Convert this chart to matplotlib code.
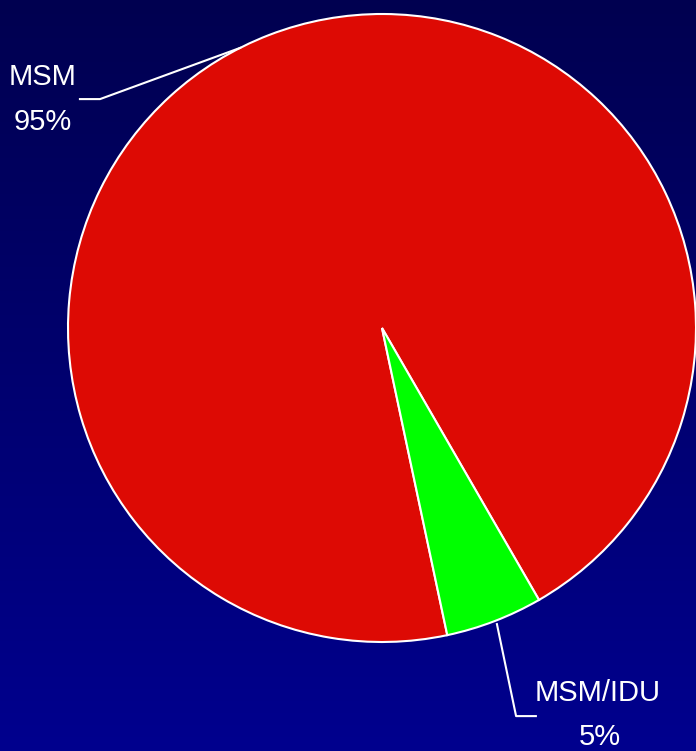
import numpy as np
import matplotlib
matplotlib.use("Agg")
import matplotlib.pyplot as plt
from matplotlib import font_manager

categories = ["MSM", "MSM/IDU"]
values = [95, 5]
colors = ["#DD0A04", "#00FF00"]

names = {f.name for f in font_manager.fontManager.ttflist}
fam = "Liberation Sans Narrow" if "Liberation Sans Narrow" in names else "Liberation Sans"
fsize = 24 if fam == "Liberation Sans Narrow" else 21

W, H = 696, 751
fig = plt.figure(figsize=(W / 100, H / 100), dpi=100)

# gradient background
bg = fig.add_axes([0, 0, 1, 1])
grad = np.linspace(0, 1, 256).reshape(-1, 1)
top = np.array([0x00, 0x00, 0x50]) / 255
bot = np.array([0x00, 0x00, 0x8E]) / 255
img = top + (bot - top) * grad[:, :, None]
bg.imshow(img, aspect="auto", extent=[0, 1, 0, 1], origin="upper")
bg.set_axis_off()

cx, cy, r = 382, 328, 314
ax = fig.add_axes([(cx - r) / W, (H - cy - r) / H, 2 * r / W, 2 * r / H])
ax.set_axis_off()
wedges, _ = ax.pie(values, colors=colors, startangle=-60, counterclock=True,
                   wedgeprops=dict(edgecolor="white", linewidth=1.5))
for w in wedges:
    w.set_clip_on(False)
ax.set_xlim(-1, 1)
ax.set_ylim(-1, 1)

# leader lines
ax.plot([-0.452, -0.898, -0.962], [0.892, 0.729, 0.729], color="white", lw=1.5, clip_on=False)
ax.plot([0.366, 0.427, 0.490], [-0.943, -1.236, -1.236], color="white", lw=1.5, clip_on=False)

tk = dict(color="white", fontsize=fsize, family=fam, ha="center", va="center", clip_on=False)
ax.text(-1.080, 0.799, f"{categories[0]}", **tk)
ax.text(-1.080, 0.656, f"{values[0]}%", **tk)
ax.text(0.688, -1.162, f"{categories[1]}", **tk)
ax.text(0.694, -1.303, f"{values[1]}%", **tk)

fig.savefig("out.png", dpi=100)
